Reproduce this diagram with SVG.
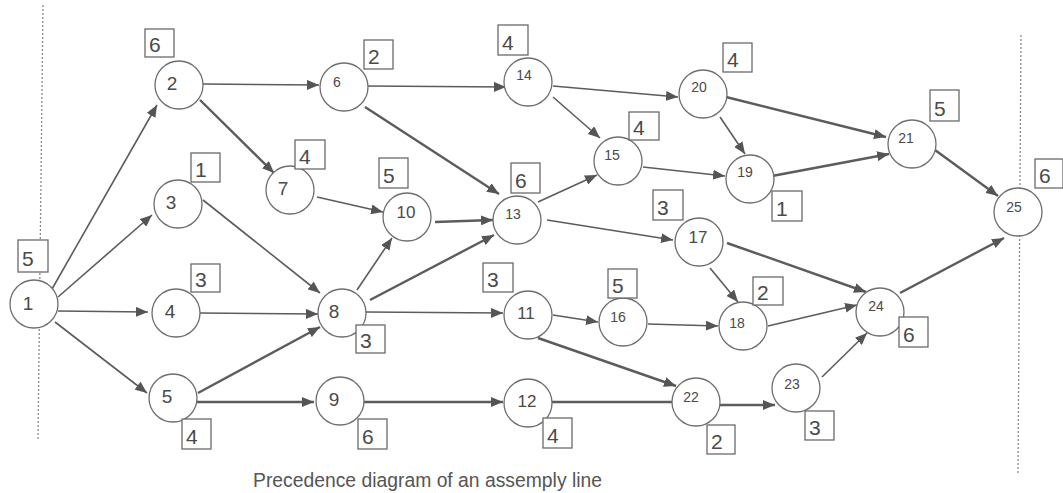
<svg xmlns="http://www.w3.org/2000/svg" width="1063" height="493" viewBox="0 0 1063 493">
  <defs>
    <marker id="arrow" viewBox="0 0 12 10" refX="12" refY="5" markerWidth="12" markerHeight="10" markerUnits="userSpaceOnUse" orient="auto">
      <path d="M0,0 L12,5 L0,10 z" fill="#555"/>
    </marker>
    <style>
      .sep { stroke: #8a8a8a; stroke-width: 1.3; stroke-dasharray: 2 2; fill: none; }
      .edge { stroke: #5c5c5c; stroke-width: 1.6; fill: none; }
      .heavy { stroke-width: 2.4; }
      .arr { marker-end: url(#arrow); }
      .node circle { fill: #fff; stroke: #6e6e6e; stroke-width: 1.3; }
      .node rect { fill: #fff; stroke: #6a6a6a; stroke-width: 1.3; }
      text { font-family: "Liberation Sans", Arial, sans-serif; fill: #4a4a4a; }
      .big { font-size: 19px; text-anchor: middle; }
      .mid { font-size: 17px; text-anchor: middle; }
      .sm { font-size: 14px; text-anchor: middle; }
      .t { font-size: 21px; }
      .caption { font-size: 19.3px; fill: #555; }
    </style>
  </defs>

  <rect width="1063" height="493" fill="#fff"/>

  <!-- station boundaries -->
  <g id="boundaries">
    <line class="sep" x1="43" y1="5" x2="38" y2="440"/>
    <line class="sep" x1="1021" y1="35" x2="1018" y2="473"/>
  </g>

  <!-- precedence arcs -->
  <g id="connectors">
    <line class="edge arr" x1="52" y1="289" x2="157" y2="105"/>
    <line class="edge arr" x1="58" y1="297" x2="152" y2="215"/>
    <line class="edge arr" x1="58" y1="311" x2="148" y2="312"/>
    <line class="edge arr" x1="55" y1="322" x2="147" y2="393"/>
    <line class="edge arr" x1="203" y1="84" x2="319" y2="85"/>
    <line class="edge heavy arr" x1="200" y1="100" x2="274" y2="173"/>
    <line class="edge arr" x1="203" y1="200" x2="320" y2="293"/>
    <line class="edge arr" x1="199" y1="313" x2="318" y2="314"/>
    <line class="edge heavy arr" x1="198" y1="393" x2="320" y2="327"/>
    <line class="edge heavy arr" x1="196" y1="402" x2="314" y2="402"/>
    <line class="edge arr" x1="367" y1="86" x2="506" y2="87"/>
    <line class="edge heavy arr" x1="365" y1="107" x2="499" y2="194"/>
    <line class="edge arr" x1="317" y1="197" x2="383" y2="212"/>
    <line class="edge arr" x1="357" y1="290" x2="392" y2="238"/>
    <line class="edge heavy arr" x1="370" y1="300" x2="494" y2="235"/>
    <line class="edge arr" x1="366" y1="312" x2="503" y2="313"/>
    <line class="edge heavy arr" x1="364" y1="402" x2="503" y2="402"/>
    <line class="edge heavy arr" x1="435" y1="222" x2="493" y2="220"/>
    <line class="edge arr" x1="538" y1="202" x2="597" y2="175"/>
    <line class="edge arr" x1="547" y1="220" x2="673" y2="240"/>
    <line class="edge arr" x1="553" y1="86" x2="678" y2="97"/>
    <line class="edge arr" x1="553" y1="97" x2="600" y2="138"/>
    <line class="edge arr" x1="643" y1="167" x2="725" y2="176"/>
    <line class="edge heavy arr" x1="718" y1="95" x2="886" y2="137"/>
    <line class="edge arr" x1="720" y1="117" x2="745" y2="154"/>
    <line class="edge heavy arr" x1="772" y1="176" x2="889" y2="154"/>
    <line class="edge heavy arr" x1="935" y1="150" x2="998" y2="196"/>
    <line class="edge heavy arr" x1="727" y1="243" x2="866" y2="292"/>
    <line class="edge arr" x1="710" y1="268" x2="738" y2="302"/>
    <line class="edge arr" x1="553" y1="315" x2="598" y2="322"/>
    <line class="edge heavy arr" x1="538" y1="338" x2="676" y2="386"/>
    <line class="edge arr" x1="648" y1="324" x2="718" y2="326"/>
    <line class="edge arr" x1="768" y1="326" x2="857" y2="305"/>
    <line class="edge heavy" x1="552" y1="402" x2="672" y2="402"/>
    <line class="edge heavy arr" x1="720" y1="405" x2="775" y2="405"/>
    <line class="edge arr" x1="822" y1="377" x2="867" y2="333"/>
    <line class="edge heavy arr" x1="900" y1="293" x2="1004" y2="238"/>
  </g>

  <!-- work elements: circle = task number, box = task time -->
  <g id="n1" class="node"><circle cx="34" cy="304" r="24"/><text class="big" x="28" y="310">1</text><rect x="18" y="240" width="30" height="32"/><text class="t" x="22" y="266">5</text></g>
  <g id="n2" class="node"><circle cx="179" cy="85" r="24"/><text class="big" x="172" y="90">2</text><rect x="145" y="29" width="29" height="28"/><text class="t" x="149" y="52">6</text></g>
  <g id="n3" class="node"><circle cx="178" cy="204" r="24"/><text class="big" x="171" y="209">3</text><rect x="191" y="153" width="29" height="29"/><text class="t" x="195" y="177">1</text></g>
  <g id="n4" class="node"><circle cx="176" cy="313" r="24"/><text class="big" x="170" y="318">4</text><rect x="191" y="264" width="29" height="28"/><text class="t" x="195" y="287">3</text></g>
  <g id="n5" class="node"><circle cx="173" cy="398" r="24"/><text class="big" x="167" y="403">5</text><rect x="182" y="419" width="29" height="30"/><text class="t" x="186" y="444">4</text></g>
  <g id="n6" class="node"><circle cx="344" cy="87" r="24"/><text class="sm" x="337" y="87">6</text><rect x="364" y="40" width="29" height="29"/><text class="t" x="368" y="64">2</text></g>
  <g id="n7" class="node"><circle cx="290" cy="190" r="24"/><text class="big" x="283" y="195">7</text><rect x="295" y="140" width="30" height="29"/><text class="t" x="299" y="164">4</text></g>
  <g id="n8" class="node"><circle cx="342" cy="313" r="24"/><text class="big" x="334" y="318">8</text><rect x="356" y="325" width="29" height="28"/><text class="t" x="360" y="348">3</text></g>
  <g id="n9" class="node"><circle cx="340" cy="401" r="24"/><text class="big" x="334" y="406">9</text><rect x="358" y="419" width="29" height="30"/><text class="t" x="362" y="444">6</text></g>
  <g id="n10" class="node"><circle cx="407" cy="217" r="24"/><text class="mid" x="406" y="218">10</text><rect x="379" y="158" width="29" height="30"/><text class="t" x="383" y="183">5</text></g>
  <g id="n11" class="node"><circle cx="528" cy="315" r="24"/><text class="mid" x="526" y="319">11</text><rect x="483" y="263" width="30" height="29"/><text class="t" x="487" y="287">3</text></g>
  <g id="n12" class="node"><circle cx="528" cy="403" r="24"/><text class="mid" x="527" y="407">12</text><rect x="543" y="418" width="29" height="30"/><text class="t" x="547" y="443">4</text></g>
  <g id="n13" class="node"><circle cx="517" cy="220" r="24"/><text class="sm" x="513" y="219">13</text><rect x="511" y="163" width="29" height="30"/><text class="t" x="515" y="188">6</text></g>
  <g id="n14" class="node"><circle cx="528" cy="82" r="24"/><text class="sm" x="524" y="80">14</text><rect x="498" y="25" width="30" height="30"/><text class="t" x="502" y="50">4</text></g>
  <g id="n15" class="node"><circle cx="618" cy="161" r="24"/><text class="sm" x="612" y="160">15</text><rect x="629" y="112" width="30" height="28"/><text class="t" x="633" y="135">4</text></g>
  <g id="n16" class="node"><circle cx="623" cy="322" r="24"/><text class="sm" x="618" y="322">16</text><rect x="608" y="269" width="29" height="29"/><text class="t" x="612" y="293">5</text></g>
  <g id="n17" class="node"><circle cx="699" cy="242" r="24"/><text class="mid" x="698" y="243">17</text><rect x="653" y="190" width="30" height="30"/><text class="t" x="657" y="215">3</text></g>
  <g id="n18" class="node"><circle cx="743" cy="326" r="24"/><text class="sm" x="737" y="328">18</text><rect x="753" y="277" width="30" height="28"/><text class="t" x="757" y="300">2</text></g>
  <g id="n19" class="node"><circle cx="750" cy="179" r="24"/><text class="sm" x="745" y="177">19</text><rect x="772" y="191" width="30" height="30"/><text class="t" x="776" y="216">1</text></g>
  <g id="n20" class="node"><circle cx="703" cy="94" r="24"/><text class="sm" x="699" y="92">20</text><rect x="723" y="43" width="29" height="29"/><text class="t" x="727" y="67">4</text></g>
  <g id="n21" class="node"><circle cx="912" cy="144" r="24"/><text class="sm" x="906" y="143">21</text><rect x="930" y="90" width="29" height="31"/><text class="t" x="934" y="116">5</text></g>
  <g id="n22" class="node"><circle cx="696" cy="402" r="24"/><text class="sm" x="691" y="402">22</text><rect x="707" y="425" width="28" height="29"/><text class="t" x="711" y="449">2</text></g>
  <g id="n23" class="node"><circle cx="796" cy="388" r="24"/><text class="sm" x="792" y="389">23</text><rect x="805" y="411" width="29" height="29"/><text class="t" x="809" y="435">3</text></g>
  <g id="n24" class="node"><circle cx="880" cy="312" r="24"/><text class="sm" x="876" y="311">24</text><rect x="899" y="317" width="29" height="30"/><text class="t" x="903" y="342">6</text></g>
  <g id="n25" class="node"><circle cx="1018" cy="212" r="24"/><text class="sm" x="1014" y="212">25</text><rect x="1035" y="159" width="28" height="29"/><text class="t" x="1039" y="183">6</text></g>

  <text class="caption" x="253" y="487" textLength="349" lengthAdjust="spacingAndGlyphs">Precedence diagram of an assemply line</text>
</svg>
